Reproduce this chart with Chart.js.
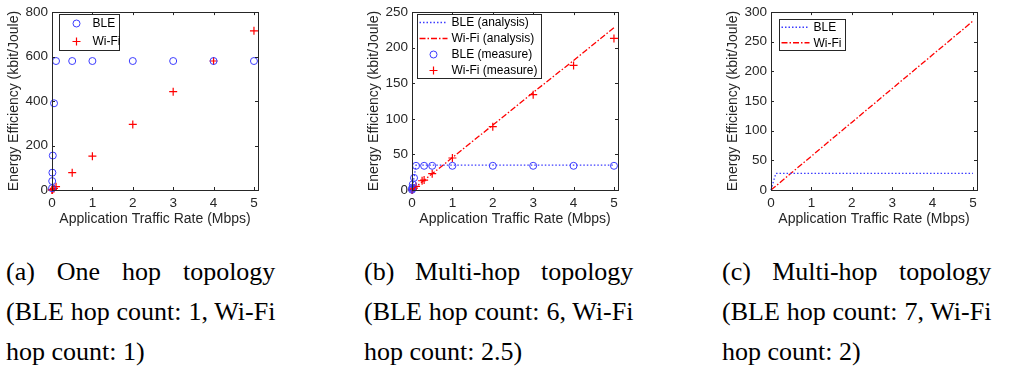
<!DOCTYPE html>
<html>
<head>
<meta charset="utf-8">
<script src="https://cdn.jsdelivr.net/npm/chart.js@4.4.0/dist/chart.umd.min.js"></script>
<style>
  html, body { margin: 0; padding: 0; background: #fff; }
  #wrap { position: relative; width: 1010px; height: 383px; overflow: hidden; }
  canvas { position: absolute; top: 0; }
  .cap { position: absolute; top: 252px; width: 259px; font-family: "Liberation Serif", "Times New Roman", serif;
         font-size: 25px; line-height: 40px; color: #000; transform: scaleX(1.04); transform-origin: 0 0; }
  .cap div { white-space: nowrap; }
  .cap .j { text-align: justify; text-align-last: justify; white-space: normal; }
</style>
</head>
<body>
<div id="wrap">
  <canvas id="chartA" width="270" height="232" style="left:0px"></canvas>
  <canvas id="chartB" width="270" height="232" style="left:360px"></canvas>
  <canvas id="chartC" width="270" height="232" style="left:719px"></canvas>
  <div class="cap" style="left:6px">
    <div class="j">(a) One hop topology</div>
    <div class="j">(BLE hop count: 1, Wi-Fi</div>
    <div>hop count: 1)</div>
  </div>
  <div class="cap" style="left:364px">
    <div class="j">(b) Multi-hop topology</div>
    <div class="j">(BLE hop count: 6, Wi-Fi</div>
    <div>hop count: 2.5)</div>
  </div>
  <div class="cap" style="left:722px">
    <div class="j">(c) Multi-hop topology</div>
    <div class="j">(BLE hop count: 7, Wi-Fi</div>
    <div>hop count: 2)</div>
  </div>
</div>
<script>
// x axis ticks (Mbps), shared by all three panels
const xTicks = [0, 1, 2, 3, 4, 5];

// (a) one hop topology, measured
const rateA = [0.001, 0.005, 0.01, 0.02, 0.05, 0.1, 0.5, 1, 2, 3, 4, 5];
const bleA = [8, 40, 78, 155, 390, 580, 580, 580, 580, 580, 580, 580];
const wifiA = [0.2, 0.8, 1.5, 3, 7, 15, 78, 152, 295, 442, 580, 716];
const yTicksA = [0, 200, 400, 600, 800];

// (b) multi-hop topology, analysis + measure
const rateAnaB = [0, 0.001, 0.005, 0.01, 0.02, 0.05, 0.1, 0.3, 0.5, 1, 2, 3, 4, 5];
const bleAnaB = [0, 0.35, 1.75, 3.5, 7, 17.5, 35, 35, 35, 35, 35, 35, 35, 35];
const wifiAnaB = [0, 0.05, 0.23, 0.46, 0.91, 2.3, 4.6, 13.7, 22.8, 45.6, 91.2, 137, 182, 228];
const rateBleB = [0.001, 0.005, 0.01, 0.02, 0.05, 0.1, 0.3, 0.5, 1, 2, 3, 4, 5];
const bleMeasB = [0.4, 1.8, 3.5, 8, 17, 34, 34, 34, 34, 34, 34, 34, 34];
const rateWifiB = [0.001, 0.005, 0.01, 0.02, 0.05, 0.1, 0.25, 0.3, 0.5, 1, 2, 3, 4, 5];
const wifiMeasB = [0.1, 0.3, 0.6, 1.2, 2.6, 5, 13, 14, 23, 45, 89, 134, 175, 213];
const yTicksB = [0, 50, 100, 150, 200, 250];

// (c) multi-hop topology, analysis
const rateC = [0, 0.05, 0.12, 0.5, 1, 2, 3, 4, 5];
const bleC = [0, 12, 28, 28, 28, 28, 28, 28, 28];
const wifiC = [0, 2.9, 6.8, 28.5, 57, 114, 171, 228, 285];
const yTicksC = [0, 50, 100, 150, 200, 250, 300];

const axisColor = '#262626';
const blue = '#3b3bff';
const red = '#ff0000';
const sansFont = 'Liberation Sans, Arial, sans-serif';

function pts(xs, ys) {
    return xs.map((x, i) => ({x: x, y: ys[i]}));
}

// box, inward ticks and boxed legend in MATLAB style
const frame = {
    id: 'frame',
    afterDraw(chart, args, opts) {
        const ctx = chart.ctx;
        const a = chart.chartArea;
        const xs = chart.scales.x, ys = chart.scales.y;
        ctx.save();
        ctx.strokeStyle = axisColor;
        ctx.lineWidth = 1;
        ctx.setLineDash([]);
        ctx.strokeRect(Math.round(a.left) + 0.5, Math.round(a.top) + 0.5, Math.round(a.width), Math.round(a.height));
        ctx.beginPath();
        xs.ticks.forEach(t => {
            const px = Math.round(xs.getPixelForValue(t.value)) + 0.5;
            ctx.moveTo(px, a.bottom); ctx.lineTo(px, a.bottom - 3);
            ctx.moveTo(px, a.top); ctx.lineTo(px, a.top + 3);
        });
        ys.ticks.forEach(t => {
            const py = Math.round(ys.getPixelForValue(t.value)) + 0.5;
            ctx.moveTo(a.left, py); ctx.lineTo(a.left + 3, py);
            ctx.moveTo(a.right, py); ctx.lineTo(a.right - 3, py);
        });
        ctx.stroke();

        // legend
        const L = opts.box;
        const bx = Math.round(a.left + L.x) + 0.5, by = Math.round(a.top + L.y) + 0.5;
        ctx.fillStyle = '#fff';
        ctx.fillRect(bx, by, L.w, L.h);
        ctx.strokeStyle = axisColor;
        ctx.strokeRect(bx, by, L.w, L.h);
        const sets = chart.data.datasets;
        const rowH = L.h / sets.length;
        ctx.font = '12px ' + sansFont;
        ctx.textBaseline = 'middle';
        sets.forEach((ds, i) => {
            const cy = by + rowH * (i + 0.5);
            ctx.save();
            ctx.strokeStyle = ds.borderColor;
            ctx.lineWidth = ds.borderWidth;
            ctx.beginPath();
            if (ds.showLine) {
                ctx.setLineDash(ds.borderDash || []);
                ctx.moveTo(bx + 2, cy); ctx.lineTo(bx + 30, cy);
            } else if (ds.pointStyle === 'circle') {
                ctx.arc(bx + L.mark, cy, ds.pointRadius, 0, Math.PI * 2);
            } else {
                ctx.moveTo(bx + L.mark - ds.pointRadius, cy); ctx.lineTo(bx + L.mark + ds.pointRadius, cy);
                ctx.moveTo(bx + L.mark, cy - ds.pointRadius); ctx.lineTo(bx + L.mark, cy + ds.pointRadius);
            }
            ctx.stroke();
            ctx.restore();
            ctx.fillStyle = '#000';
            ctx.fillText(ds.label, bx + L.text, cy + 0.5);
        });
        ctx.restore();
    }
};

function circles(label, data) {
    return {label: label, data: data, showLine: false, pointStyle: 'circle', pointRadius: 3.5,
        pointHoverRadius: 3.5, borderColor: blue, backgroundColor: 'rgba(0,0,0,0)', borderWidth: 1, clip: false};
}
function crosses(label, data) {
    return {label: label, data: data, showLine: false, pointStyle: 'cross', pointRadius: 4,
        pointHoverRadius: 4, borderColor: red, backgroundColor: red, borderWidth: 1.2, clip: false};
}
function curve(label, data, color, dash) {
    return {label: label, data: data, showLine: true, pointRadius: 0, borderColor: color,
        borderWidth: 1.3, borderDash: dash, fill: false, tension: 0, clip: false};
}

function makeChart(id, datasets, yMax, yTicks, box) {
    const ctx = document.getElementById(id).getContext('2d');
    return new Chart(ctx, {
        type: 'scatter',
        data: {datasets: datasets},
        options: {
            responsive: false,
            animation: false,
            events: [],
            layout: {padding: {left: 0, top: 11, right: 12, bottom: 0}},
            plugins: {legend: {display: false}, tooltip: {enabled: false}, frame: {box: box}},
            scales: {
                x: {
                    type: 'linear', min: 0, max: 5.1,
                    afterBuildTicks: s => { s.ticks = xTicks.map(v => ({value: v})); },
                    afterFit: s => { s.height = 42; },
                    grid: {display: false, drawTicks: false},
                    border: {display: false},
                    ticks: {color: axisColor, padding: 5, font: {family: sansFont, size: 13.5}, maxRotation: 0},
                    title: {display: true, text: 'Application Traffic Rate (Mbps)', color: axisColor,
                        padding: {top: 0, bottom: 4}, font: {family: sansFont, size: 14}}
                },
                y: {
                    type: 'linear', min: 0, max: yMax,
                    afterBuildTicks: s => { s.ticks = yTicks.map(v => ({value: v})); },
                    afterFit: s => { s.width = 52; },
                    grid: {display: false, drawTicks: false},
                    border: {display: false},
                    ticks: {color: axisColor, padding: 4, font: {family: sansFont, size: 13.5}},
                    title: {display: true, text: 'Energy Efficiency (kbit/Joule)', color: axisColor,
                        padding: {top: 6, bottom: 0}, font: {family: sansFont, size: 14}}
                }
            }
        },
        plugins: [frame]
    });
}

makeChart('chartA', [
    circles('BLE', pts(rateA, bleA)),
    crosses('Wi-Fi', pts(rateA, wifiA))
], 800, yTicksA, {x: 7, y: 2, w: 60, h: 36, mark: 17, text: 33});

makeChart('chartB', [
    curve('BLE (analysis)', pts(rateAnaB, bleAnaB), blue, [1.5, 2]),
    curve('Wi-Fi (analysis)', pts(rateAnaB, wifiAnaB), red, [6, 2, 1.5, 2]),
    circles('BLE (measure)', pts(rateBleB, bleMeasB)),
    crosses('Wi-Fi (measure)', pts(rateWifiB, wifiMeasB))
], 250, yTicksB, {x: 5, y: 2, w: 124, h: 64, mark: 16, text: 34});

makeChart('chartC', [
    curve('BLE', pts(rateC, bleC), blue, [1.5, 2]),
    curve('Wi-Fi', pts(rateC, wifiC), red, [6, 2, 1.5, 2])
], 300, yTicksC, {x: 8, y: 7, w: 66, h: 31, mark: 16, text: 34});
</script>
</body>
</html>
